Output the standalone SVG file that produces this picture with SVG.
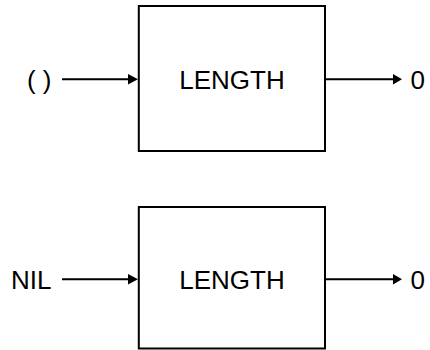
<svg xmlns="http://www.w3.org/2000/svg" width="430" height="350" viewBox="0 0 430 350">
<defs>
<style>
.box{fill:#fff;stroke:#000;stroke-width:2}
.edge{stroke:#000;stroke-width:2;fill:none}
.head{fill:#000;stroke:none}
text{font-family:"Liberation Sans",Arial,sans-serif;font-size:26px;fill:#000}
</style>
</defs>
<rect width="430" height="350" fill="#fff"/>
<g id="node-length-1">
<rect class="box" x="138.8" y="6" width="186.2" height="145"/>
<text x="232" y="88.7" text-anchor="middle">LENGTH</text>
</g>
<g id="node-length-2">
<rect class="box" x="138.8" y="207" width="186.2" height="141.5"/>
<text x="232" y="288.9" text-anchor="middle">LENGTH</text>
</g>
<g id="label-empty"><text x="51.5" y="88.7" text-anchor="end">( )</text></g>
<g id="label-nil"><text x="51.5" y="288.9" text-anchor="end">NIL</text></g>
<g id="label-out-1"><text x="410.5" y="88.7">0</text></g>
<g id="label-out-2"><text x="410.5" y="288.9">0</text></g>
<g id="connectors">
<line class="edge" x1="62" y1="79.3" x2="130" y2="79.3"/>
<polygon class="head" points="128,74 138,79.3 128,84.6"/>
<line class="edge" x1="325" y1="79.3" x2="395" y2="79.3"/>
<polygon class="head" points="393,74 402,79.3 393,84.6"/>
<line class="edge" x1="62" y1="279.3" x2="130" y2="279.3"/>
<polygon class="head" points="128,274 138,279.3 128,284.6"/>
<line class="edge" x1="325" y1="279.3" x2="395" y2="279.3"/>
<polygon class="head" points="393,274 402,279.3 393,284.6"/>
</g>
</svg>
